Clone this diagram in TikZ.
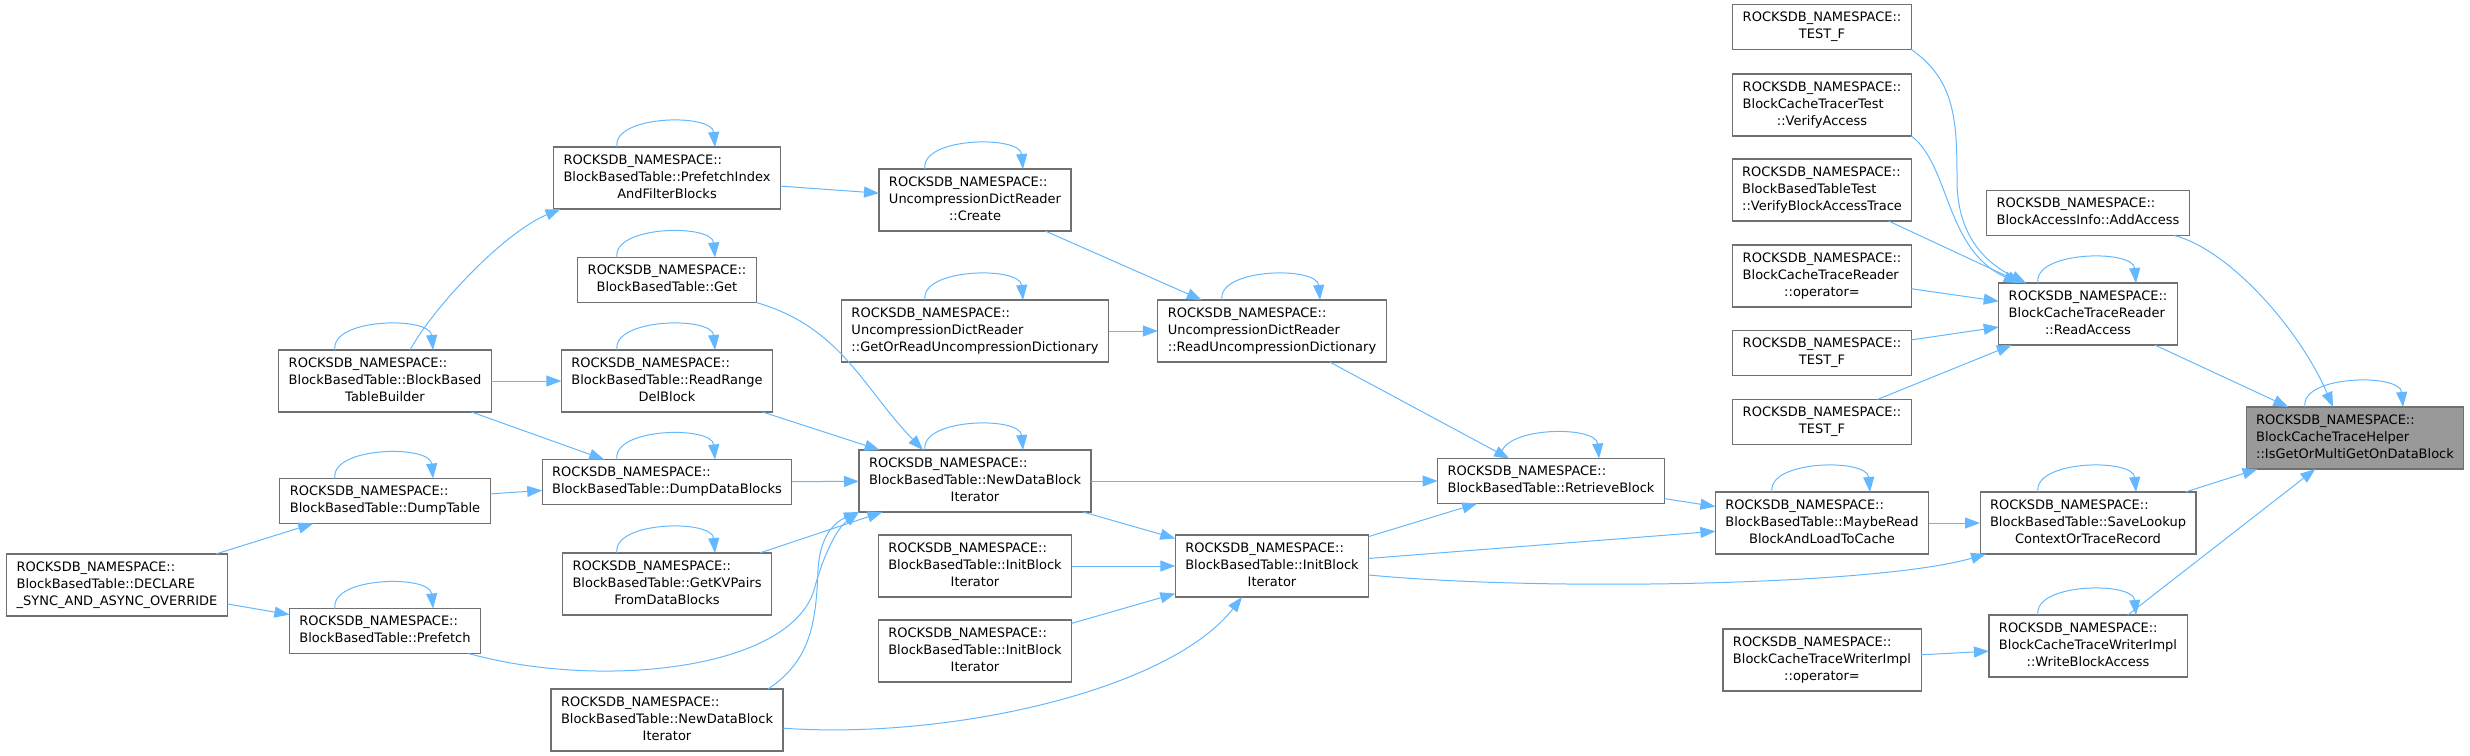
\documentclass[tikz,border=0pt]{standalone}
\usepackage{fontspec}
\setmainfont{DejaVu Sans}
\definecolor{callblue}{RGB}{99, 184, 255}
\definecolor{boxgray}{RGB}{112, 112, 112}
\definecolor{rootgray}{RGB}{153, 153, 153}
\usepackage{tikz}
\usetikzlibrary{
    arrows.meta,
    calc
}
% first lines left, last line centred
\newcommand{\fnlabel}[2]{\begin{tabular}{@{}l@{}}#1\\\multicolumn{1}{@{}c@{}}{#2}\end{tabular}}

\begin{document}
\begin{tikzpicture}[x=1bp, y=-1bp,
    fn/.style={draw=boxgray, fill=white, line width=1.1bp, inner xsep=10bp, inner ysep=5.5bp, outer sep=0pt, font=\fontsize{13bp}{17bp}\selectfont},
    fnroot/.style={fn, fill=rootgray},
    call/.style={draw=callblue, line width=1bp, -{Triangle[length=15bp, width=11bp]}}]
    \useasboundingbox (0,0) rectangle (2470,756);

    % BlockBasedTable callers
    \node[fn] (pifb) at (667,178) {\fnlabel{ROCKSDB\_NAMESPACE::\\BlockBasedTable::PrefetchIndex}{AndFilterBlocks}};
    \node[fn] (bget) at (667,280) {\fnlabel{ROCKSDB\_NAMESPACE::}{BlockBasedTable::Get}};
    \node[fn] (bbtb) at (385,381) {\fnlabel{ROCKSDB\_NAMESPACE::\\BlockBasedTable::BlockBased}{TableBuilder}};
    \node[fn] (rrdb) at (667,381) {\fnlabel{ROCKSDB\_NAMESPACE::\\BlockBasedTable::ReadRange}{DelBlock}};
    \node[fn] (dddb) at (667,482) {\fnlabel{ROCKSDB\_NAMESPACE::}{BlockBasedTable::DumpDataBlocks}};
    \node[fn] (dmpt) at (385,501) {\fnlabel{ROCKSDB\_NAMESPACE::}{BlockBasedTable::DumpTable}};
    \node[fn] (dsao) at (117,585) {\fnlabel{ROCKSDB\_NAMESPACE::\\BlockBasedTable::DECLARE}{\_SYNC\_AND\_ASYNC\_OVERRIDE}};
    \node[fn] (pfch) at (385,631) {\fnlabel{ROCKSDB\_NAMESPACE::}{BlockBasedTable::Prefetch}};
    \node[fn] (gkvp) at (667,584) {\fnlabel{ROCKSDB\_NAMESPACE::\\BlockBasedTable::GetKVPairs}{FromDataBlocks}};
    \node[fn] (ndbb) at (667,720) {\fnlabel{ROCKSDB\_NAMESPACE::\\BlockBasedTable::NewDataBlock}{Iterator}};

    % Dictionary reader and iterators
    \node[fn] (crte) at (975,200) {\fnlabel{ROCKSDB\_NAMESPACE::\\UncompressionDictReader}{::Create}};
    \node[fn] (gorud) at (975,331) {\fnlabel{ROCKSDB\_NAMESPACE::\\UncompressionDictReader}{::GetOrReadUncompressionDictionary}};
    \node[fn] (rudc) at (1272,331) {\fnlabel{ROCKSDB\_NAMESPACE::\\UncompressionDictReader}{::ReadUncompressionDictionary}};
    \node[fn] (ndbi) at (975,481) {\fnlabel{ROCKSDB\_NAMESPACE::\\BlockBasedTable::NewDataBlock}{Iterator}};
    \node[fn] (ibia) at (975,566) {\fnlabel{ROCKSDB\_NAMESPACE::\\BlockBasedTable::InitBlock}{Iterator}};
    \node[fn] (ibib) at (975,651) {\fnlabel{ROCKSDB\_NAMESPACE::\\BlockBasedTable::InitBlock}{Iterator}};
    \node[fn] (ibim) at (1272,566) {\fnlabel{ROCKSDB\_NAMESPACE::\\BlockBasedTable::InitBlock}{Iterator}};
    \node[fn] (rtvb) at (1551,481) {\fnlabel{ROCKSDB\_NAMESPACE::}{BlockBasedTable::RetrieveBlock}};
    \node[fn] (mrbl) at (1822,523) {\fnlabel{ROCKSDB\_NAMESPACE::\\BlockBasedTable::MaybeRead}{BlockAndLoadToCache}};
    \node[fn] (slcr) at (2088,523) {\fnlabel{ROCKSDB\_NAMESPACE::\\BlockBasedTable::SaveLookup}{ContextOrTraceRecord}};

    % Trace reader / writer side
    \node[fn] (tfa) at (1822,27) {\fnlabel{ROCKSDB\_NAMESPACE::}{TEST\_F}};
    \node[fn] (vfya) at (1822,105) {\fnlabel{ROCKSDB\_NAMESPACE::\\BlockCacheTracerTest}{::VerifyAccess}};
    \node[fn] (vbat) at (1822,190) {\fnlabel{ROCKSDB\_NAMESPACE::\\BlockBasedTableTest}{::VerifyBlockAccessTrace}};
    \node[fn] (rdop) at (1822,276) {\fnlabel{ROCKSDB\_NAMESPACE::\\BlockCacheTraceReader}{::operator=}};
    \node[fn] (tfb) at (1822,353) {\fnlabel{ROCKSDB\_NAMESPACE::}{TEST\_F}};
    \node[fn] (tfc) at (1822,422) {\fnlabel{ROCKSDB\_NAMESPACE::}{TEST\_F}};
    \node[fn] (adda) at (2088,213) {\fnlabel{ROCKSDB\_NAMESPACE::}{BlockAccessInfo::AddAccess}};
    \node[fn] (rdac) at (2088,314) {\fnlabel{ROCKSDB\_NAMESPACE::\\BlockCacheTraceReader}{::ReadAccess}};
    \node[fn] (wrop) at (1822,660) {\fnlabel{ROCKSDB\_NAMESPACE::\\BlockCacheTraceWriterImpl}{::operator=}};
    \node[fn] (wrba) at (2088,646) {\fnlabel{ROCKSDB\_NAMESPACE::\\BlockCacheTraceWriterImpl}{::WriteBlockAccess}};

    % Root
    \node[fnroot] (root) at (2355,438) {\fnlabel{ROCKSDB\_NAMESPACE::\\BlockCacheTraceHelper}{::IsGetOrMultiGetOnDataBlock}};

    % Self calls
    \foreach \n in {pifb,bget,bbtb,rrdb,dddb,dmpt,pfch,gkvp,crte,gorud,rudc,ndbi,rtvb,mrbl,slcr,rdac,wrba,root}
        \draw[call] ([xshift=-50bp]\n.north) .. controls +(-5,-32) and +(-3,-34) .. ([xshift=48bp]\n.north);

    % Left part
    \draw[call] ([xshift=25bp]bbtb.north) .. controls (435,305) and (505,232) .. ([xshift=7bp]pifb.south west);
    \draw[call] (bbtb) -- (rrdb);
    \draw[call] (bbtb) -- (dddb);
    \draw[call] (dmpt) -- (dddb);
    \draw[call] (dsao) -- (dmpt);
    \draw[call] (dsao) -- (pfch);
    \draw[call] (pifb) -- (crte);
    \draw[call] (bget.south east) .. controls (841,327) and (863,388) .. ([xshift=-52bp]ndbi.north);
    \draw[call] (rrdb) -- (ndbi);
    \draw[call] (dddb) -- (ndbi);
    \draw[call] (gkvp) -- (ndbi);
    \draw[call] ([xshift=-12bp]pfch.south east) .. controls (600,690) and (790,670) .. (814,590) .. controls (822,560) and (835,530) .. (ndbi.south west);
    \draw[call] ([xshift=-15bp]ndbb.north east) .. controls (812,660) and (816,620) .. (818,570) .. controls (820,535) and (835,522) .. (ndbi.south west);
    \draw[call] (ndbb) .. controls (950,740) and (1170,690) .. ([xshift=-30bp]ibim.south);

    % Middle part
    \draw[call] (crte) -- (rudc);
    \draw[call] (gorud) -- (rudc);
    \draw[call] (rudc) -- (rtvb);
    \draw[call] (ndbi) -- (rtvb);
    \draw[call] (ndbi) -- (ibim);
    \draw[call] (ibia) -- (ibim);
    \draw[call] (ibib) -- (ibim);
    \draw[call] (ibim) -- (rtvb);
    \draw[call] (ibim) -- (mrbl);
    \draw[call] (ibim) .. controls (1550,592) and (1880,585) .. ([xshift=6bp]slcr.south west);
    \draw[call] (rtvb) -- (mrbl);
    \draw[call] (mrbl) -- (slcr);

    % Right part
    \draw[call] (tfa.south east) .. controls (1955,80) and (1957,120) .. (1957,180) .. controls (1957,240) and (1990,265) .. (rdac);
    \draw[call] (vfya.south east) .. controls (1950,165) and (1945,250) .. (rdac);
    \draw[call] (vbat) -- (rdac);
    \draw[call] (rdop) -- (rdac);
    \draw[call] (tfb) -- (rdac);
    \draw[call] (tfc) -- (rdac);
    \draw[call] (wrop) -- (wrba);
    \draw[call] (rdac) -- (root);
    \draw[call] (adda) .. controls (2230,250) and (2300,330) .. ([xshift=-22bp]root.north);
    \draw[call] (slcr) -- (root);
    \draw[call] (wrba) -- (root);
\end{tikzpicture}
\end{document}
